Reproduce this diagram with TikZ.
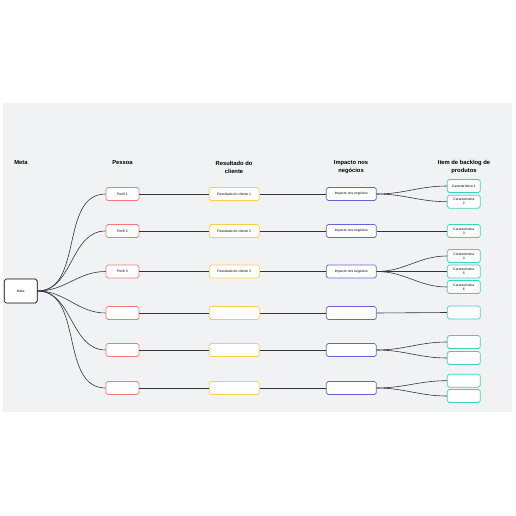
\documentclass[tikz,border=0pt]{standalone}
\usepackage{fontspec}
\setmainfont{Liberation Sans}
\usepackage{xcolor}
\usetikzlibrary{positioning,calc}

\definecolor{canvas}{HTML}{F1F2F4}
\definecolor{linkgray}{HTML}{30343D}
\definecolor{personared}{HTML}{F47A7A}
\definecolor{resultyellow}{HTML}{F9CF47}
\definecolor{impactblue}{HTML}{6464D8}
\definecolor{itemteal}{HTML}{3CD2BD}

\begin{document}
\begin{tikzpicture}[x=1pt, y=-1pt,
    block/.style={rectangle, draw, fill=white, rounded corners=1.8pt, line width=0.7pt,
      minimum height=13pt, inner sep=0pt, align=center,
      font=\fontsize{3.4}{4}\selectfont},
    goalbox/.style={block, draw=black, minimum width=33pt, minimum height=24pt},
    personabox/.style={block, draw=personared, minimum width=33pt},
    resultbox/.style={block, draw=resultyellow, minimum width=50pt},
    impactbox/.style={block, draw=impactblue, minimum width=50pt},
    itembox/.style={block, draw=itemteal, minimum width=33pt, text width=30pt},
    header/.style={align=center, font=\fontsize{5.8}{8}\selectfont\bfseries},
    link/.style={draw=linkgray, line width=0.6pt},
  ]
    % Background
    \fill[canvas] (3,103) rectangle (512,412);
    \useasboundingbox (0,0) rectangle (516,516);

    % Headers
    \node[header] (hmeta) at (21,163) {Meta};
    \node[header] (hpessoa) at (122.5,163) {Pessoa};
    \node[header] (hresult) at (234,167) {Resultado do\\cliente};
    \node[header] (himpact) at (351,167) {Impacto nos\\negócios};
    \node[header] (hitem) at (464,167) {Item de backlog de\\produtos};

    % Nodes
    \node[goalbox] (goal) at (20.7,291) {Meta};

    \node[personabox] (p1) at (122.5,194) {Perfil 1};
    \node[personabox] (p2) at (122.5,231) {Perfil 2};
    \node[personabox] (p3) at (122.5,271.5) {Perfil 3};
    \node[personabox] (p4) at (122.5,313) {};
    \node[personabox] (p5) at (122.5,350) {};
    \node[personabox] (p6) at (122.5,388) {};

    \node[resultbox] (r1) at (234.3,194) {Resultado do cliente 1};
    \node[resultbox] (r2) at (234.3,231) {Resultado do cliente 2};
    \node[resultbox] (r3) at (234.3,271.5) {Resultado do cliente 3};
    \node[resultbox] (r4) at (234.3,313) {};
    \node[resultbox] (r5) at (234.3,350) {};
    \node[resultbox] (r6) at (234.3,388) {};

    \node[impactbox] (i1) at (351.3,194) {Impacto nos negócios};
    \node[impactbox] (i2) at (351.3,231) {Impacto nos negócios};
    \node[impactbox] (i3) at (351.3,271.5) {Impacto nos negócios};
    \node[impactbox] (i4) at (351.3,313) {};
    \node[impactbox] (i5) at (351.3,350) {};
    \node[impactbox] (i6) at (351.3,388) {};

    \node[itembox] (c1) at (463.8,186) {Característica 1};
    \node[itembox] (c2) at (463.8,201.7) {Característica\\2};
    \node[itembox] (c3) at (463.8,231) {Característica\\3};
    \node[itembox] (c4) at (463.8,256) {Característica\\4};
    \node[itembox] (c5) at (463.8,271.5) {Característica\\5};
    \node[itembox] (c6) at (463.8,287) {Característica\\6};
    \node[itembox] (c7) at (463.8,312.5) {};
    \node[itembox] (c8) at (463.8,342) {};
    \node[itembox] (c9) at (463.8,358) {};
    \node[itembox] (c10) at (463.8,380.7) {};
    \node[itembox] (c11) at (463.8,396) {};

    % Links
    \draw[link] (goal.east) to[out=0, in=180] (p1.west);
    \draw[link] (goal.east) to[out=0, in=180] (p2.west);
    \draw[link] (goal.east) to[out=0, in=180] (p3.west);
    \draw[link] (goal.east) to[out=0, in=180] (p4.west);
    \draw[link] (goal.east) to[out=0, in=180] (p5.west);
    \draw[link] (goal.east) to[out=0, in=180] (p6.west);

    \draw[link] (p1) -- (r1);
    \draw[link] (p2) -- (r2);
    \draw[link] (p3) -- (r3);
    \draw[link] (p4) -- (r4);
    \draw[link] (p5) -- (r5);
    \draw[link] (p6) -- (r6);

    \draw[link] (r1) -- (i1);
    \draw[link] (r2) -- (i2);
    \draw[link] (r3) -- (i3);
    \draw[link] (r4) -- (i4);
    \draw[link] (r5) -- (i5);
    \draw[link] (r6) -- (i6);

    \draw[link] (i1.east) to[out=0, in=180] (c1.west);
    \draw[link] (i1.east) to[out=0, in=180] (c2.west);
    \draw[link] (i2.east) -- (c3.west);
    \draw[link] (i3.east) to[out=0, in=180] (c4.west);
    \draw[link] (i3.east) -- (c5.west);
    \draw[link] (i3.east) to[out=0, in=180] (c6.west);
    \draw[link] (i4.east) -- (c7.west);
    \draw[link] (i5.east) to[out=0, in=180] (c8.west);
    \draw[link] (i5.east) to[out=0, in=180] (c9.west);
    \draw[link] (i6.east) to[out=0, in=180] (c10.west);
    \draw[link] (i6.east) to[out=0, in=180] (c11.west);
  \end{tikzpicture}
\end{document}
